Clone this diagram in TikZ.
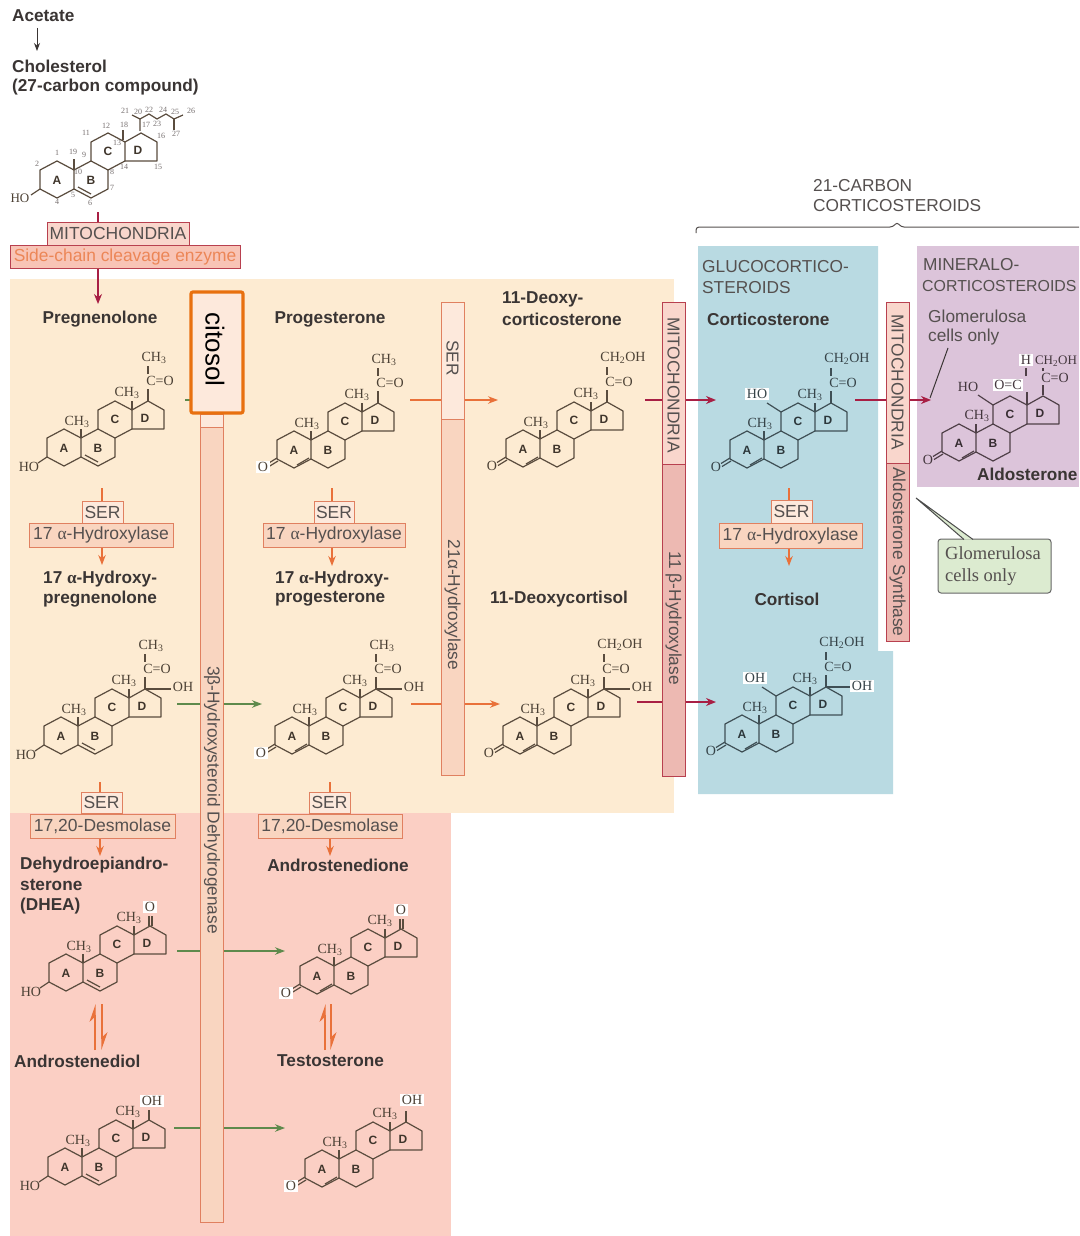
\documentclass[tikz,border=0pt]{standalone}
\usepackage{fontspec}
\setmainfont{Liberation Sans}
\newfontfamily\molfont{Liberation Serif}
\usetikzlibrary{arrows.meta}
\definecolor{peachbg}{HTML}{FDEBD2}
\definecolor{salmonbg}{HTML}{FBCFC4}
\definecolor{bluebg}{HTML}{B9DAE2}
\definecolor{purplebg}{HTML}{DCC4DA}
\definecolor{txtdark}{HTML}{3A3534}
\definecolor{txtgray}{HTML}{55504F}
\definecolor{enzline}{HTML}{E08060}
\definecolor{enzfill}{HTML}{F9D5C0}
\definecolor{enzlight}{HTML}{FDE9DC}
\definecolor{mitoline}{HTML}{B8404F}
\definecolor{mitofill}{HTML}{F9D6CC}
\definecolor{mitodark}{HTML}{EDB9B2}
\definecolor{scefill}{HTML}{F8C4B6}
\definecolor{orangear}{HTML}{E9713A}
\definecolor{redar}{HTML}{A81F44}
\definecolor{greenar}{HTML}{5E8A4C}
\definecolor{bondc}{HTML}{5A4C3E}
\definecolor{numc}{HTML}{777070}
\definecolor{gboxfill}{HTML}{DCEBD0}
\definecolor{citline}{HTML}{E8700F}
\tikzset{
  x=1pt,y=-1pt,
  bigbold/.style={font=\fontsize{17.2}{20}\selectfont\bfseries,text=txtdark,inner sep=0pt},
  plainlab/.style={font=\fontsize{17.3}{20}\selectfont,text=txtgray,inner sep=0pt},
  bond/.style={draw=bondc,line width=1.2pt,line join=round},
  mol/.style={font=\fontsize{14}{16}\selectfont\molfont,text=bondc!85!black,inner sep=0pt},
  molw/.style={mol,fill=white,inner sep=1.5pt},
  ringlet/.style={font=\fontsize{12}{14}\selectfont\bfseries,text=bondc!70!black,inner sep=0pt},
  cnum/.style={font=\fontsize{8}{9}\selectfont\molfont,text=numc,inner sep=0pt},
  enzbox/.style={draw=enzline,line width=1pt,fill=enzfill,inner sep=0pt,text=txtgray,font=\fontsize{17.5}{20}\selectfont},
  serbox/.style={enzbox,fill=enzlight},
  strip/.style={draw=enzline,line width=1pt,fill=enzfill,inner sep=0pt},
  striplight/.style={strip,fill=enzlight},
  mstrip/.style={draw=mitoline,line width=1pt,fill=mitofill,inner sep=0pt},
  mstripdark/.style={mstrip,fill=mitodark},
  vtext/.style={rotate=-90,font=\fontsize{17.3}{20}\selectfont,text=txtgray,inner sep=0pt},
  orarrow/.style={draw=orangear,line width=1.3pt,-{Stealth[length=10pt,width=7.5pt]}},
  orline/.style={draw=orangear,line width=1.3pt},
  redarrow/.style={draw=redar,line width=1.3pt,-{Stealth[length=10pt,width=8pt]}},
  redline/.style={draw=redar,line width=1.3pt},
  grarrow/.style={draw=greenar,line width=1.3pt,-{Stealth[length=10pt,width=7.5pt]}},
  grline/.style={draw=greenar,line width=1.3pt},
  eqarrow/.style={draw=orangear,line width=1.3pt,-{Stealth[length=16pt,width=11pt,left]}},
}
\newcommand{\molbase}{%
  \draw[bond] (-17,-9)--(0,-18)--(17,-9)--(17,10)--(0,19)--(-17,10)--cycle;
  \draw[bond] (17,-9)--(34,-18)--(51,-9)--(51,10)--(34,19)--(17,10);
  \draw[bond] (34,-18)--(34,-37)--(51,-46)--(68,-37)--(68,-18)--(51,-9);
  \draw[bond] (68,-37)--(84,-46)--(100,-37)--(100,-18)--(68,-18);
  \node[ringlet] (\pfx ra) at (0,1) {A};
  \node[ringlet] (\pfx rb) at (34,1) {B};
  \node[ringlet] (\pfx rc) at (51,-28) {C};
  \node[ringlet] (\pfx rd) at (81,-29) {D};
}
\newcommand{\steroid}[4]{%
  \def\pfx{#1}%
  \begin{scope}[shift={(#2,#3)}]
    \molbase
    #4
  \end{scope}
}
\newcommand{\hydroxy}{%
  \draw[bond] (21,8)--(34,15);
  \draw[bond] (-17,10)--(-26,16);
  \node[mol] (\pfx ho) at (-35,20) {HO};
}
\newcommand{\enone}{%
  \draw[bond] (3,16)--(15,9);
  \draw[bond] (-17,9)--(-26,14.5);
  \draw[bond] (-16,12)--(-25,17.5);
  \node[mol] (\pfx ox) at (-31,18) {O};
}
\newcommand{\enonew}{%
  \draw[bond] (3,16)--(15,9);
  \draw[bond] (-17,9)--(-26,14.5);
  \draw[bond] (-16,12)--(-25,17.5);
  \node[molw] (\pfx ox) at (-31,18) {O};
}
\newcommand{\methyls}{%
  \draw[bond] (17,-9)--(17,-18);
  \draw[bond] (68,-37)--(68,-46);
  \node[mol] (\pfx meb) at (13,-25) {CH\textsubscript{3}};
  \node[mol] (\pfx mec) at (63,-54) {CH\textsubscript{3}};
}
\newcommand{\coside}{%
  \draw[bond] (84,-46)--(84,-58);
  \node[mol] (\pfx co) at (96,-66) {C=O};
}
\newcommand{\ketoside}{%
  \coside
  \draw[bond] (84,-73)--(84,-81);
  \node[mol] (\pfx mea) at (90,-89) {CH\textsubscript{3}};
}
\newcommand{\cortside}{%
  \coside
  \draw[bond] (84,-73)--(84,-81);
  \node[mol] (\pfx cho) at (100,-90) {CH\textsubscript{2}OH};
}
\newcommand{\ohside}{%
  \draw[bond] (84,-46)--(110,-46);
  \node[mol] (\pfx oh) at (122,-48) {OH};
}
\newcommand{\oxotop}{%
  \draw[bond] (83,-46)--(83,-56);
  \draw[bond] (86,-46)--(86,-56);
  \node[molw] (\pfx oxo) at (84,-65) {O};
}
\begin{document}
\begin{tikzpicture}
\useasboundingbox (0,0) rectangle (1079,1236);
\clip (0,0) rectangle (1079,1236);
\fill[white] (0,0) rectangle (1079,1236);
% background panels
\fill[peachbg] (10,279) rectangle (674,813);
\fill[salmonbg] (10,813) rectangle (451,1236);
\fill[bluebg] (698,246) -- (878,246) -- (878,651) -- (893,651) -- (893,794) -- (698,794) -- cycle;
\fill[purplebg] (917,246) rectangle (1079,487);

% top part
\node[bigbold,anchor=west] (acetate) at (12,16) {Acetate};
\node[bigbold,anchor=west] (cholest) at (12,66) {Cholesterol};
\node[bigbold,anchor=west] (cholestb) at (12,87) {(27-carbon compound)};
\coordinate (acetend) at (37,28);
\coordinate (cholend) at (37,51);
\draw[draw=txtdark,line width=1pt,-{Stealth[length=8pt,width=6pt]}] (acetend) -- (cholend);

\steroid{chol}{57}{179}{%
  \draw[bond] (21,8)--(34,15);
  \draw[bond] (-17,10)--(-26,16);
  \node[mol,font=\fontsize{13}{15}\selectfont\molfont] (cholho) at (-37,19) {HO};
  \draw[bond] (17,-9)--(17,-20);
  \draw[bond] (66,-39)--(66,-49);
  \draw[bond] (83,-48)--(83,-60)--(75,-64);
  \draw[bond] (83,-60)--(92,-65)--(100,-60)--(109,-65)--(117,-60)--(126,-64);
  \draw[bond] (117,-60)--(117,-49);
}
\foreach \lab/\xx/\yy in {1/57/153,2/37/164,4/57/202,5/73/195,6/90/203,7/112/188,8/112/172,9/84/155,10/78/172,11/86/133,12/106/126,13/117/143,14/124/167,15/158/167,16/161/136,17/146/125,18/124/125,19/73/152,20/138/112,21/125/111,22/149/110,23/157/124,24/163/110,25/175/112,26/191/111,27/176/134}{
  \node[cnum] (n\lab) at (\xx,\yy) {\lab};
}

\node[draw=mitoline,line width=1pt,fill=mitofill,inner sep=0pt,minimum width=142pt,minimum height=23pt,text=txtgray,font=\fontsize{17.5}{20}\selectfont] (mitotop) at (118,233.5) {MITOCHONDRIA};
\node[draw=mitoline,line width=1pt,fill=scefill,inner sep=0pt,minimum width=230pt,minimum height=23pt,text=orangear!85!white,font=\fontsize{17.4}{20}\selectfont] (sidechain) at (125,256.5) {Side-chain cleavage enzyme};
\coordinate (toplinea) at (98,212);
\coordinate (pregtop) at (98,304);
\draw[redline] (toplinea) -- (toplinea |- mitotop.north);
\draw[redarrow] (toplinea |- sidechain.south) -- (pregtop);

% strips
\node[striplight,minimum width=23pt,minimum height=13pt] (bhsd1) at (212,420.5) {};
\node[strip,minimum width=23pt,minimum height=795pt] (bhsd2) at (212,824.5) {};
\node[vtext] (bhsdt) at (212,800) {3β-Hydroxysteroid Dehydrogenase};
\node[striplight,minimum width=23pt,minimum height=117pt] (ser21) at (452.5,360.5) {};
\node[strip,minimum width=23pt,minimum height=356pt] (h21) at (452.5,597) {};
\node[vtext] (ser21t) at (452.5,358) {SER};
\node[vtext] (h21t) at (452.5,605) {21α-Hydroxylase};
\node[mstrip,minimum width=23pt,minimum height=162pt] (mito1) at (673.5,383) {};
\node[mstripdark,minimum width=23pt,minimum height=312pt] (h11) at (673.5,620) {};
\node[vtext] (mito1t) at (673.5,385) {MITOCHONDRIA};
\node[vtext] (h11t) at (673.5,618) {11 β-Hydroxylase};
\node[mstrip,minimum width=23pt,minimum height=161pt] (mito2) at (897.5,382.5) {};
\node[mstripdark,minimum width=23pt,minimum height=178pt] (aldo) at (897.5,552) {};
\node[vtext] (mito2t) at (897.5,382) {MITOCHONDRIA};
\node[vtext] (aldot) at (897.5,552) {Aldosterone Synthase};

% compound names
\node[bigbold] (pregn) at (100,319) {Pregnenolone};
\node[bigbold] (proge) at (330,319) {Progesterone};
\node[bigbold,anchor=west] (docA) at (502,299) {11-Deoxy-};
\node[bigbold,anchor=west] (docB) at (502,319) {corticosterone};
\node[bigbold,anchor=west] (cortico) at (707,319) {Corticosterone};
\node[bigbold,anchor=west] (ohpA) at (43,579) {17 {\molfont α}-Hydroxy-};
\node[bigbold,anchor=west] (ohpB) at (43,599) {pregnenolone};
\node[bigbold,anchor=west] (ohrA) at (275,579) {17 {\molfont α}-Hydroxy-};
\node[bigbold,anchor=west] (ohrB) at (275,599) {progesterone};
\node[bigbold,anchor=west] (dcort) at (490,599) {11-Deoxycortisol};
\node[bigbold] (cortisol) at (787,599) {Cortisol};
\node[bigbold,anchor=west] (dheaA) at (20,865) {Dehydroepiandro-};
\node[bigbold,anchor=west] (dheaB) at (20,885) {sterone};
\node[bigbold,anchor=west] (dheaC) at (20,906) {(DHEA)};
\node[bigbold] (andro) at (338,865) {Androstenedione};
\node[bigbold,anchor=west] (adiol) at (14,1061) {Androstenediol};
\node[bigbold,anchor=west] (testo) at (277,1061) {Testosterone};
\node[bigbold,anchor=west] (aldost) at (977,474) {Aldosterone};

% headings
\node[plainlab,anchor=west] (carbA) at (813,186) {21-CARBON};
\node[plainlab,anchor=west] (carbB) at (813,206) {CORTICOSTEROIDS};
\node[plainlab,anchor=west] (glucA) at (702,267) {GLUCOCORTICO-};
\node[plainlab,anchor=west] (glucB) at (702,288) {STEROIDS};
\node[plainlab,anchor=west] (minA) at (923,265) {MINERALO-};
\node[plainlab,anchor=west,font=\fontsize{15.9}{20}\selectfont] (minB) at (922,286) {CORTICOSTEROIDS};
\node[plainlab,anchor=west] (gloA) at (928,316) {Glomerulosa};
\node[plainlab,anchor=west] (gloB) at (928,337) {cells only};
\coordinate (braceL) at (696,233);
\coordinate (braceR) at (1085,227);
\coordinate (braceT) at (897,222);
\draw[draw=txtgray,line width=1pt,rounded corners=3pt] (braceL) -- (696,227) -- (893,227) -- (braceT) -- (901,227) -- (braceR);

% molecules
\steroid{mpreg}{64}{447}{\hydroxy\methyls\ketoside}
\steroid{mprog}{294}{449}{\enonew\methyls\ketoside}
\steroid{mdoc}{523}{448}{\enone\methyls\cortside}
\steroid{moh}{61}{735}{\hydroxy\methyls\ketoside\ohside}
\steroid{mohp}{292}{735}{\enonew\methyls\ketoside\ohside}
\steroid{mdcol}{520}{735}{\enone\methyls\cortside\ohside}
\steroid{mdhea}{66}{972}{\hydroxy\methyls\oxotop}
\steroid{mandr}{317}{975}{\enonew\methyls\oxotop}
\steroid{madio}{65}{1166}{\hydroxy\methyls
  \draw[bond] (84,-46)--(84,-56);
  \node[molw] (madiooh) at (87,-65) {OH};}
\steroid{mtest}{322}{1168}{\enonew\methyls
  \draw[bond] (84,-46)--(84,-57);
  \node[molw] (mtestoh) at (90,-68) {OH};}
\begin{scope}
\definecolor{bondc}{HTML}{3F4F55}
\steroid{mcoS}{747}{449}{\enone\methyls\cortside
  \draw[bond] (34,-37)--(20,-46);
  \node[molw] (mcoSho) at (10,-55) {HO};}
\steroid{mcol}{742}{733}{\enone\methyls\cortside
  \draw[bond] (34,-37)--(20,-46);
  \node[molw] (mcolhoa) at (13,-55) {OH};
  \draw[bond] (84,-46)--(108,-46);
  \node[molw] (mcolhob) at (120,-47) {OH};}
\end{scope}
\begin{scope}
\definecolor{bondc}{HTML}{4F4048}
\steroid{mald}{959}{442}{\enone
  \draw[bond] (17,-9)--(17,-18);
  \node[mol] (mldme) at (18,-26) {CH\textsubscript{3}};
  \draw[bond] (68,-37)--(68,-50);
  \draw[bond] (34,-37)--(19,-47);
  \node[mol] (mldho) at (9,-55) {HO};
  \node[molw] (mldoc) at (49,-57) {O=C};
  \draw[bond] (67,-66)--(67,-74);
  \node[molw] (mldh) at (67,-82) {H};
  \draw[bond] (84,-47)--(84,-57);
  \node[mol] (mldco) at (96,-64) {C=O};
  \draw[bond] (84,-71)--(84,-74);
  \node[mol,font=\fontsize{13}{15}\selectfont\molfont] (mldch) at (97,-81) {CH\textsubscript{2}OH};}
\end{scope}

% enzyme boxes
\node[serbox,minimum width=41pt,minimum height=22pt] (s1) at (102.5,512) {SER};
\node[enzbox,minimum width=144pt,minimum height=24pt] (e1) at (101,535) {17 {\molfont α}-Hydroxylase};
\node[serbox,minimum width=40pt,minimum height=22pt] (s2) at (334,512) {SER};
\node[enzbox,minimum width=142pt,minimum height=24pt] (e2) at (334,535) {17 {\molfont α}-Hydroxylase};
\node[serbox,minimum width=41pt,minimum height=23pt] (s3) at (791.5,511.5) {SER};
\node[enzbox,minimum width=143pt,minimum height=25pt] (e3) at (790.5,535.5) {17 {\molfont α}-Hydroxylase};
\node[serbox,minimum width=41pt,minimum height=21pt] (s4) at (101.5,802.5) {SER};
\node[enzbox,minimum width=145pt,minimum height=24pt] (e4) at (102.5,826) {17,20-Desmolase};
\node[serbox,minimum width=41pt,minimum height=21pt] (s5) at (329.5,802.5) {SER};
\node[enzbox,minimum width=144pt,minimum height=24pt] (e5) at (330,826) {17,20-Desmolase};

% vertical reactions
\coordinate (v1a) at (102,488); \coordinate (v1b) at (102,565);
\draw[orline] (v1a) -- (v1a |- s1.north);
\draw[orarrow] (v1b |- e1.south) -- (v1b);
\coordinate (v2a) at (332,488); \coordinate (v2b) at (332,566);
\draw[orline] (v2a) -- (v2a |- s2.north);
\draw[orarrow] (v2b |- e2.south) -- (v2b);
\coordinate (v3a) at (789,488); \coordinate (v3b) at (789,566);
\draw[orline] (v3a) -- (v3a |- s3.north);
\draw[orarrow] (v3b |- e3.south) -- (v3b);
\coordinate (v4a) at (100,782); \coordinate (v4b) at (100,856);
\draw[orline] (v4a) -- (v4a |- s4.north);
\draw[orarrow] (v4b |- e4.south) -- (v4b);
\coordinate (v5a) at (330,782); \coordinate (v5b) at (330,856);
\draw[orline] (v5a) -- (v5a |- s5.north);
\draw[orarrow] (v5b |- e5.south) -- (v5b);

% horizontal reactions
\coordinate (h1a) at (410,400); \coordinate (h1b) at (498,400);
\draw[orline] (h1a) -- (h1a -| ser21.west);
\draw[orarrow] (h1b -| ser21.east) -- (h1b);
\coordinate (h2a) at (411,704); \coordinate (h2b) at (500,704);
\draw[orline] (h2a) -- (h2a -| h21.west);
\draw[orarrow] (h2b -| h21.east) -- (h2b);
\coordinate (h3a) at (645,400); \coordinate (h3b) at (716,400);
\draw[redline] (h3a) -- (h3a -| mito1.west);
\draw[redarrow] (h3b -| mito1.east) -- (h3b);
\coordinate (h4a) at (637,702); \coordinate (h4b) at (716,702);
\draw[redline] (h4a) -- (h4a -| h11.west);
\draw[redarrow] (h4b -| h11.east) -- (h4b);
\coordinate (h5a) at (855,400); \coordinate (h5b) at (931,400);
\draw[redline] (h5a) -- (h5a -| mito2.west);
\draw[redarrow] (h5b -| mito2.east) -- (h5b);
\coordinate (h6a) at (177,704); \coordinate (h6b) at (262,704);
\draw[grline] (h6a) -- (h6a -| bhsd2.west);
\draw[grarrow] (h6b -| bhsd2.east) -- (h6b);
\coordinate (h7a) at (177,951); \coordinate (h7b) at (285,951);
\draw[grline] (h7a) -- (h7a -| bhsd2.west);
\draw[grarrow] (h7b -| bhsd2.east) -- (h7b);
\coordinate (h8a) at (174,1128); \coordinate (h8b) at (285,1128);
\draw[grline] (h8a) -- (h8a -| bhsd2.west);
\draw[grarrow] (h8b -| bhsd2.east) -- (h8b);
\coordinate (h9a) at (185,400); \coordinate (h9b) at (192,400);
\draw[grline] (h9a) -- (h9b);

% equilibrium arrows
\coordinate (q1a) at (95,1050); \coordinate (q1b) at (95,1004);
\coordinate (q2a) at (102,1004); \coordinate (q2b) at (102,1050);
\coordinate (q3a) at (325,1050); \coordinate (q3b) at (325,1004);
\coordinate (q4a) at (331,1004); \coordinate (q4b) at (331,1050);
\draw[eqarrow] (q1a) -- (q1b);
\draw[eqarrow] (q2a) -- (q2b);
\draw[eqarrow] (q3a) -- (q3b);
\draw[eqarrow] (q4a) -- (q4b);

% glomerulosa pointers
\coordinate (gp1) at (948,348); \coordinate (gp2) at (930,398);
\draw[draw=txtdark,line width=1pt] (gp1) -- (gp2);
\node[draw=black!60,line width=1pt,fill=gboxfill,rounded corners=3pt,minimum width=113pt,minimum height=54pt,inner sep=0pt] (gbox) at (994.5,566) {};
\coordinate (gtip) at (916,498);
\draw[draw=black!70,line width=1pt,fill=gboxfill] (964,539.5) -- (gtip) -- (973,539.5);
\node[font=\fontsize{18.5}{22}\selectfont\molfont,text=txtgray,inner sep=0pt,anchor=west,align=left] (gtext) at (945,566) {Glomerulosa\\cells only};

% citosol highlight
\node[draw=citline,line width=3.2pt,fill=enzlight,rounded corners=2pt,minimum width=52pt,minimum height=121pt,inner sep=0pt] (citbox) at (217,352.5) {};
\node[rotate=-90,font=\fontsize{26}{30}\selectfont,text=black,inner sep=0pt] (citt) at (215,349.5) {citosol};
\end{tikzpicture}
\end{document}
